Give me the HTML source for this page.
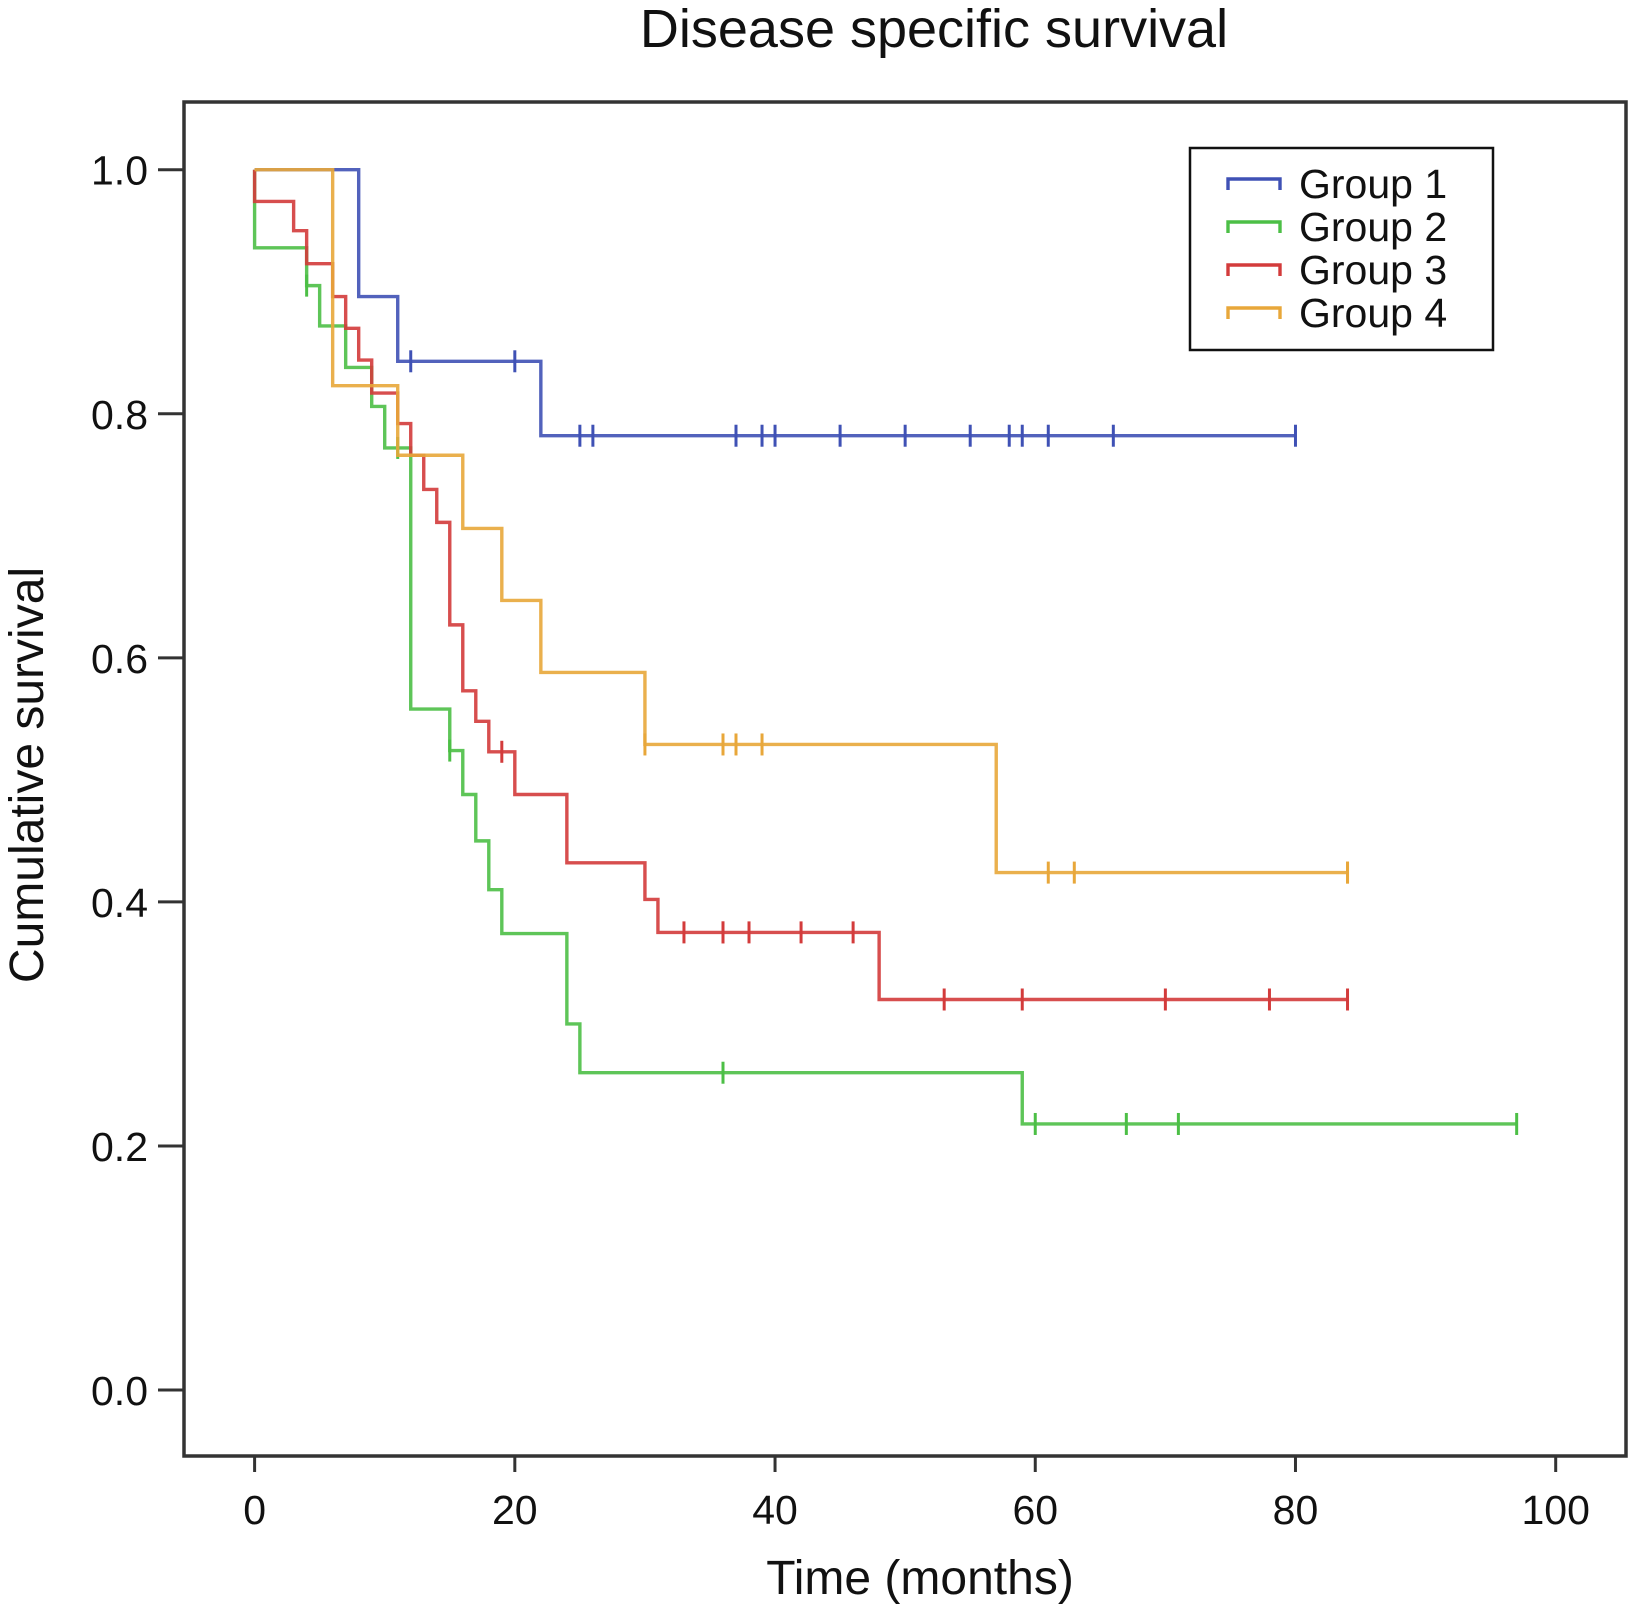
<!DOCTYPE html>
<html><head><meta charset="utf-8"><style>
html,body{margin:0;padding:0;background:#fff;}
svg{display:block;font-family:"Liberation Sans",Arial,sans-serif;}
</style></head><body>
<svg id="chart" width="1642" height="1618" viewBox="0 0 1642 1618">
<text x="934" y="47" font-size="54" text-anchor="middle" fill="#111">Disease specific survival</text>
<rect x="184" y="102" width="1442" height="1354" fill="none" stroke="#333" stroke-width="3.5"/>
<g id="axes"></g>
<g id="series"></g>
<text x="920" y="1594" font-size="48" text-anchor="middle" fill="#111">Time (months)</text>
<text transform="translate(43,775) rotate(-90)" font-size="48" text-anchor="middle" fill="#111">Cumulative survival</text>
<g>
<rect x="1190" y="148" width="303" height="202" fill="#fff" stroke="#111" stroke-width="2.5"/>
<g id="legend"></g>
</g>
</svg>
<script>
const xTicks=[0,20,40,60,80,100];
const yTicks=[0.0,0.2,0.4,0.6,0.8,1.0];
const groupNames=["Group 1","Group 2","Group 3","Group 4"];
const groupColors=["#3f51b5","#4cbf46","#d33b3b","#e8a73a"];
// event times and survival after each event
const g1Times=[0,8,11,22];
const g1Surv=[1.0,0.896,0.843,0.782];
const g1Censor=[12,20,25,26,37,39,40,45,50,55,58,59,61,66,80];
const g1End=80;
const g2Times=[0,4,5,7,9,10,12,15,16,17,18,19,24,25,59];
const g2Surv=[0.936,0.905,0.872,0.838,0.806,0.772,0.558,0.524,0.488,0.45,0.41,0.374,0.30,0.26,0.218];
const g2Censor=[4,11,15,36,60,67,71,97];
const g2End=97;
const g3Times=[0,3,4,6,7,8,9,11,12,13,14,15,16,17,18,20,24,30,31,48];
const g3Surv=[0.974,0.95,0.923,0.896,0.870,0.844,0.817,0.792,0.766,0.738,0.711,0.627,0.573,0.548,0.523,0.488,0.432,0.402,0.375,0.32];
const g3Censor=[19,33,36,36,38,42,46,53,59,70,78,84];
const g3End=84;
const g4Times=[0,6,11,16,19,22,30,57];
const g4Surv=[1.0,0.823,0.766,0.706,0.647,0.588,0.529,0.424];
const g4Censor=[30,36,37,39,61,63,84,84];
const g4End=84;

const X=t=>254.6+t*13.011;
const Y=s=>1390-s*1220.3;
const NS="http://www.w3.org/2000/svg";
function mk(tag,attrs,parent){const e=document.createElementNS(NS,tag);for(const k in attrs)e.setAttribute(k,attrs[k]);parent.appendChild(e);return e;}
const axes=document.getElementById('axes');
xTicks.forEach(v=>{
  const l=mk('line',{x1:X(v),x2:X(v),y1:1456,y2:1472,stroke:'#333','stroke-width':3},axes);
  
  
  const t=mk('text',{x:X(v),y:1524,'font-size':41,'text-anchor':'middle',fill:'#111'},axes);
  t.textContent=v;
  
  
});
yTicks.forEach(v=>{
  const l=mk('line',{x1:158,x2:184,y1:Y(v),y2:Y(v),stroke:'#333','stroke-width':3},axes);
  
  
  const t=mk('text',{x:148,y:Y(v)+15,'font-size':41,'text-anchor':'end',fill:'#111'},axes);
  t.textContent=v.toFixed(1);
  
  
});
const series=document.getElementById('series');
const groups=[[g1Times,g1Surv,g1Censor,g1End],[g2Times,g2Surv,g2Censor,g2End],[g3Times,g3Surv,g3Censor,g3End],[g4Times,g4Surv,g4Censor,g4End]];
function survAt(times,surv,t){let s=1;for(let i=0;i<times.length;i++){if(times[i]<=t)s=surv[i];}return s;}
groups.forEach((g,gi)=>{
  const [times,surv,cens,end]=g;
  let d=`M${X(0)},${Y(1)}`;let cur=1;
  times.forEach((t,i)=>{d+=` L${X(t)},${Y(cur)} L${X(t)},${Y(surv[i])}`;cur=surv[i];});
  d+=` L${X(end)},${Y(cur)}`;
  const p=mk('path',{d:d,fill:'none',stroke:groupColors[gi],'stroke-width':3.4,'stroke-opacity':0.9},series);
  
  
  cens.forEach(c=>{
    const s=survAt(times,surv,c);
    const m=mk('line',{x1:X(c),x2:X(c),y1:Y(s)-11,y2:Y(s)+11,stroke:groupColors[gi],'stroke-width':3},series);
    
    
  });
});
const leg=document.getElementById('legend');
groupNames.forEach((n,i)=>{
  const y=184+i*43;
  const p=mk('path',{d:`M1228,${y+6} L1228,${y-5} L1280,${y-5} L1280,${y+6}`,fill:'none',stroke:groupColors[i],'stroke-width':3.4},leg);
  
  
  const t=mk('text',{x:1299,y:y+14,'font-size':41,fill:'#111'},leg);
  t.textContent=n;
  
  
});
</script>
</body></html>
